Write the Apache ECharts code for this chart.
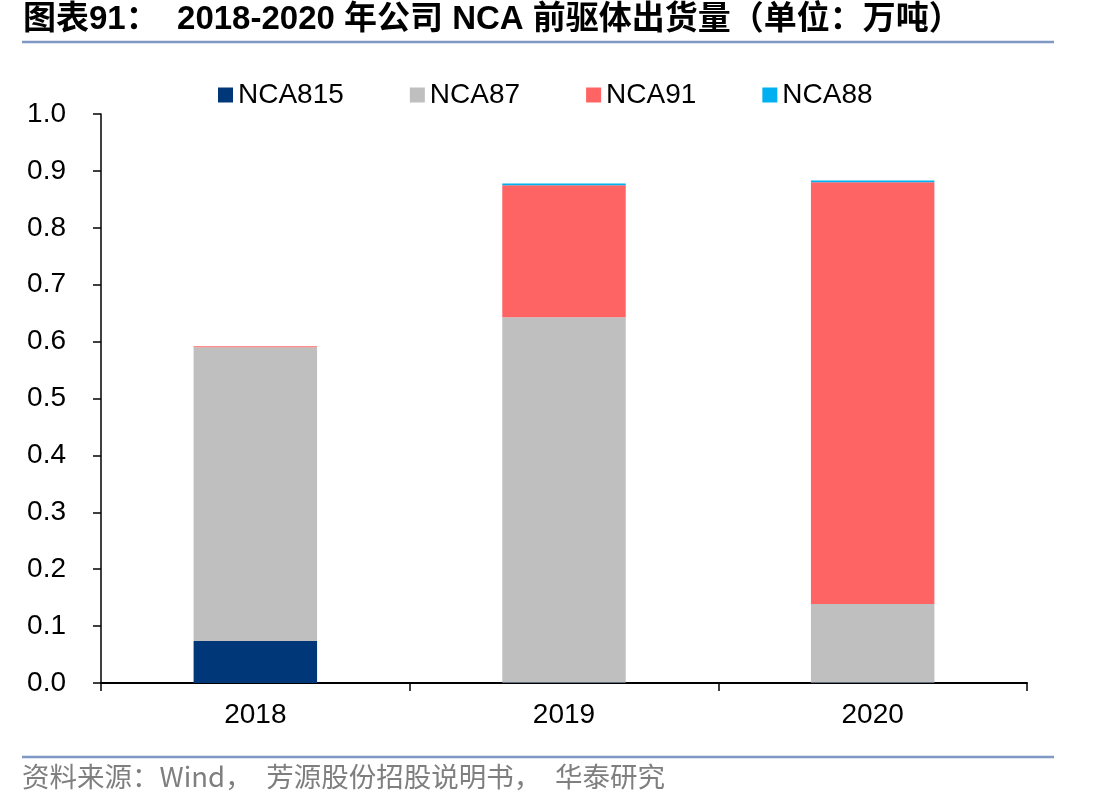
<!DOCTYPE html>
<html><head><meta charset="utf-8">
<script src="https://cdn.jsdelivr.net/npm/echarts@6/dist/echarts.min.js"></script>
<style>html,body{margin:0;padding:0;background:#fff}#c{width:1112px;height:812px}</style>
</head><body><div id="c"></div>
<script>
const categories = ['2018', '2019', '2020'];
const nca815 = [0.074, 0.001, 0.001];
const nca87 = [0.516, 0.642, 0.138];
const nca91 = [0.002, 0.232, 0.741];
const nca88 = [0.0, 0.003, 0.003];
const seriesNames = ['NCA815', 'NCA87', 'NCA91', 'NCA88'];
const colors = ['#003778', '#bfbfbf', '#ff6464', '#00b0f0'];
const titleText = '图表91：  2018-2020 年公司 NCA 前驱体出货量（单位：万吨）';
const sourceText = '资料来源：Wind，　芳源股份招股说明书，　华泰研究';

const chart = echarts.init(document.getElementById('c'), null, {renderer: 'canvas'});
const font = '"Liberation Sans", Arial, "Noto Sans CJK SC", sans-serif';
const dataList = [nca815, nca87, nca91, nca88];
chart.setOption({
  animation: false,
  backgroundColor: '#fff',
  color: colors,
  grid: {left: 101, right: 85, top: 114, bottom: 129},
  legend: {
    data: seriesNames,
    left: 213, top: 76,
    itemWidth: 15, itemHeight: 15, itemGap: 66,
    icon: 'rect',
    textStyle: {fontSize: 28, fontFamily: font, color: '#000'}
  },
  xAxis: {
    type: 'category', data: categories,
    axisLine: {lineStyle: {color: '#000', width: 2}},
    axisTick: {show: true, length: 8, lineStyle: {color: '#000', width: 1.5}},
    axisLabel: {fontSize: 28, fontFamily: font, color: '#000', margin: 18}
  },
  yAxis: {
    type: 'value', min: 0, max: 1, interval: 0.1,
    splitLine: {show: false},
    axisLine: {show: true, lineStyle: {color: '#000', width: 1.5}},
    axisTick: {show: true, length: 8, lineStyle: {color: '#000', width: 1.5}},
    axisLabel: {fontSize: 28, fontFamily: font, color: '#000', margin: 35,
      formatter: v => v.toFixed(1)}
  },
  series: seriesNames.map((n, i) => ({
    name: n, type: 'bar', stack: 'total', barWidth: '40%',
    data: dataList[i]
  })),
  graphic: [
    {type: 'text', left: 23, top: 3, style: {text: titleText, fontSize: 33, fontWeight: 'bold',
      fontFamily: '"Liberation Sans Narrow", "Liberation Sans", Arial, "Noto Sans CJK SC", sans-serif', fill: '#000'}},
    {type: 'line', shape: {x1: 22, y1: 42, x2: 1054, y2: 42}, style: {stroke: '#7f99c4', lineWidth: 2.5}},
    {type: 'line', shape: {x1: 22, y1: 757, x2: 1054, y2: 757}, style: {stroke: '#7f99c4', lineWidth: 2.5}},
    {type: 'text', left: 22, top: 763, style: {text: sourceText, fontSize: 27.5,
      fontFamily: '"Noto Sans CJK SC", sans-serif', fill: '#7f7f7f'}}
  ]
});
</script></body></html>
